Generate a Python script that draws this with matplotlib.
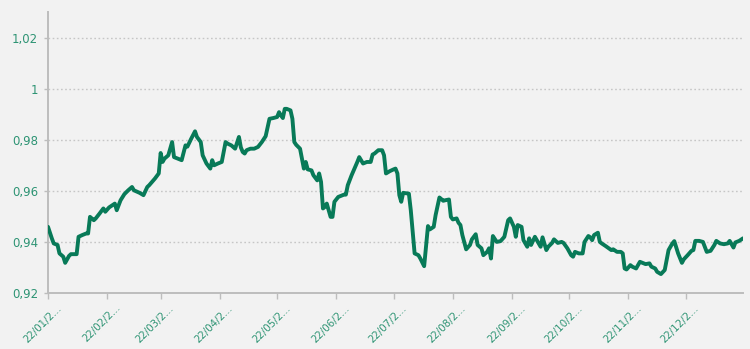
import matplotlib
matplotlib.use("Agg")
import matplotlib.pyplot as plt
import matplotlib.transforms as mtransforms
from matplotlib.ticker import FuncFormatter
import pandas as pd

start_date = "2019-01-22"
day_offsets = [0, 2, 3, 5, 6, 8, 9, 11, 12, 15, 16, 18, 20, 21, 22, 24, 25, 27, 29, 30,
               32, 35, 36, 38, 40, 42, 44, 45, 48, 50, 52, 53, 56, 58, 59, 60, 61, 63, 65, 66,
               68, 70, 72, 73, 75, 77, 78, 80, 81, 83, 85, 86, 87, 89, 91, 93, 94, 96, 98, 100,
               101, 102, 103, 104, 106, 108, 110, 112, 114, 116, 118, 120, 121, 122, 123, 124, 125, 127, 128, 129,
               130, 132, 134, 135, 136, 138, 139, 141, 142, 143, 144, 145, 146, 148, 149, 150, 152, 155, 156, 157,
               159, 162, 163, 165, 167, 169, 170, 171, 173, 175, 176, 177, 179, 181, 182, 183, 184, 185, 186, 189,
               190, 192, 194, 195, 197, 199, 200, 202, 203, 205, 207, 208, 210, 211, 212, 214, 215, 216, 217, 219,
               221, 222, 224, 225, 227, 228, 230, 231, 232, 233, 235, 237, 239, 241, 242, 244, 245, 246, 248, 249,
               251, 252, 253, 255, 256, 258, 259, 261, 262, 264, 265, 267, 269, 270, 272, 274, 275, 276, 278, 280,
               281, 283, 284, 285, 286, 288, 289, 290, 292, 295, 296, 298, 300, 301, 302, 303, 305, 306, 308, 310,
               313, 315, 316, 318, 319, 321, 323, 325, 327, 328, 330, 332, 333, 335, 337, 338, 339, 341, 343, 345,
               347, 349, 350, 352, 354, 356, 357, 359, 360, 362, 364]
values = [0.9459, 0.9414, 0.9394, 0.9388, 0.9355, 0.9342, 0.9318, 0.9345, 0.9352, 0.9352,
          0.9420, 0.9427, 0.9433, 0.9433, 0.9498, 0.9485, 0.9492, 0.9511, 0.9531, 0.9518,
          0.9535, 0.9550, 0.9524, 0.9563, 0.9587, 0.9602, 0.9615, 0.9602, 0.9592, 0.9583,
          0.9615, 0.9622, 0.9648, 0.9668, 0.9748, 0.9713, 0.9726, 0.9739, 0.9791, 0.9732,
          0.9726, 0.9720, 0.9778, 0.9773, 0.9804, 0.9833, 0.9811, 0.9791, 0.9739, 0.9707,
          0.9687, 0.9720, 0.9700, 0.9707, 0.9713, 0.9791, 0.9785, 0.9778, 0.9765, 0.9811,
          0.9770, 0.9752, 0.9746, 0.9759, 0.9765, 0.9765, 0.9772, 0.9791, 0.9814, 0.9882,
          0.9885, 0.9889, 0.9908, 0.9895, 0.9885, 0.9921, 0.9921, 0.9915, 0.9882, 0.9791,
          0.9780, 0.9765, 0.9687, 0.9713, 0.9684, 0.9680, 0.9661, 0.9641, 0.9668, 0.9635,
          0.9531, 0.9537, 0.9550, 0.9498, 0.9498, 0.9557, 0.9576, 0.9585, 0.9585, 0.9622,
          0.9661, 0.9713, 0.9732, 0.9707, 0.9713, 0.9713, 0.9742, 0.9746, 0.9759, 0.9759,
          0.9739, 0.9668, 0.9677, 0.9684, 0.9687, 0.9668, 0.9583, 0.9557, 0.9592, 0.9589,
          0.9524, 0.9355, 0.9348, 0.9335, 0.9305, 0.9462, 0.9449, 0.9459, 0.9505, 0.9574,
          0.9561, 0.9563, 0.9566, 0.9498, 0.9488, 0.9492, 0.9475, 0.9466, 0.9427, 0.9371,
          0.9388, 0.9410, 0.9430, 0.9388, 0.9375, 0.9348, 0.9361, 0.9375, 0.9335, 0.9423,
          0.9400, 0.9403, 0.9420, 0.9485, 0.9492, 0.9459, 0.9420, 0.9466, 0.9459, 0.9407,
          0.9381, 0.9414, 0.9388, 0.9420, 0.9407, 0.9381, 0.9418, 0.9368, 0.9381, 0.9396,
          0.9410, 0.9396, 0.9400, 0.9396, 0.9375, 0.9348, 0.9342, 0.9361, 0.9355, 0.9355,
          0.9400, 0.9423, 0.9418, 0.9407, 0.9427, 0.9436, 0.9400, 0.9394, 0.9384, 0.9368,
          0.9371, 0.9361, 0.9361, 0.9355, 0.9296, 0.9292, 0.9309, 0.9303, 0.9296, 0.9322,
          0.9313, 0.9316, 0.9303, 0.9296, 0.9283, 0.9274, 0.9290, 0.9368, 0.9394, 0.9403,
          0.9355, 0.9318, 0.9332, 0.9348, 0.9365, 0.9368, 0.9404, 0.9404, 0.9400, 0.9361,
          0.9365, 0.9388, 0.9404, 0.9394, 0.9391, 0.9394, 0.9404, 0.9378, 0.9398, 0.9404,
          0.9414]

tick_dates = ["2019-01-22", "2019-02-22", "2019-03-22", "2019-04-22", "2019-05-22", "2019-06-22",
              "2019-07-22", "2019-08-22", "2019-09-22", "2019-10-22", "2019-11-22", "2019-12-22"]
tick_labels = ["22/01/2...", "22/02/2...", "22/03/2...", "22/04/2...", "22/05/2...", "22/06/2...",
               "22/07/2...", "22/08/2...", "22/09/2...", "22/10/2...", "22/11/2...", "22/12/2..."]
y_ticks = [0.92, 0.94, 0.96, 0.98, 1.00, 1.02]

dates = pd.Timestamp(start_date) + pd.to_timedelta(day_offsets, unit="D")

bg = "#f2f2f2"
line_color = "#087a58"
text_color = "#2e9474"

fig = plt.figure(figsize=(7.5, 3.49), dpi=100, facecolor=bg)
ax = fig.add_axes([0.064, 0.1605, 0.9267, 0.805], facecolor=bg)

ax.plot(dates, values, color=line_color, lw=2.8, solid_joinstyle="round",
        solid_capstyle="round", zorder=3)

ax.set_xlim(pd.Timestamp(start_date), pd.Timestamp(start_date) + pd.Timedelta(days=364))
ax.set_ylim(0.92, 1.03)

ax.set_yticks(y_ticks)
ax.yaxis.set_major_formatter(FuncFormatter(lambda v, p: ("%g" % round(v, 2)).replace(".", ",")))
ax.set_xticks(pd.to_datetime(tick_dates))
ax.set_xticklabels(tick_labels)

ax.grid(axis="y", color="#c6c6c6", linestyle=(0, (1.2, 1.8)), lw=1.0, zorder=1)
ax.grid(axis="x", visible=False)

for s in ["top", "right"]:
    ax.spines[s].set_visible(False)
for s in ["left", "bottom"]:
    ax.spines[s].set_color("#bdbdbd")
    ax.spines[s].set_linewidth(1.4)

ax.tick_params(axis="y", colors="#bdbdbd", labelcolor=text_color, labelsize=8.5, length=3, width=1.0, pad=4)
ax.tick_params(axis="x", colors="#bdbdbd", labelcolor=text_color, labelsize=7.4, length=4, width=1.0, pad=3)

shift = mtransforms.ScaledTranslation(8 / 100, 0, fig.dpi_scale_trans)
for lbl in ax.get_xticklabels():
    lbl.set_rotation(45)
    lbl.set_ha("right")
    lbl.set_rotation_mode("anchor")
    lbl.set_transform(lbl.get_transform() + shift)

fig.savefig("out.png", dpi=100, facecolor=bg)
